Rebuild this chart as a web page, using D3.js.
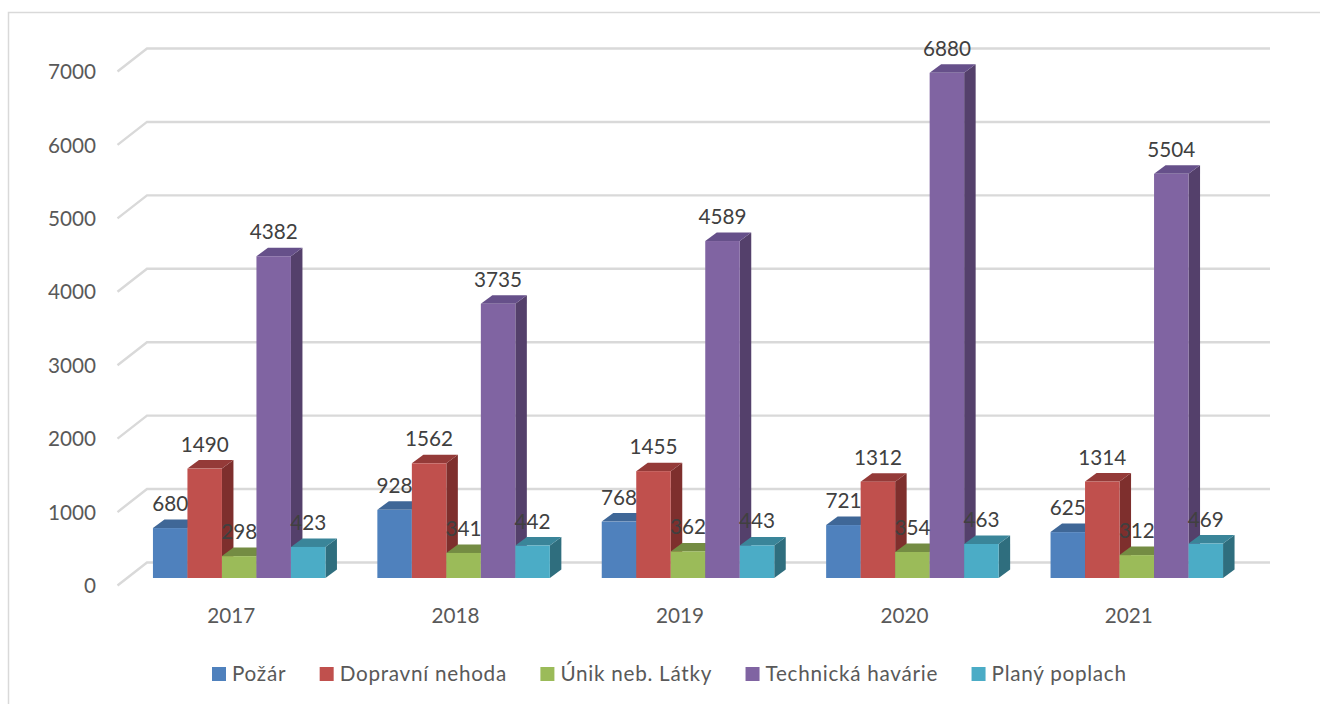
<!DOCTYPE html>
<html><head><meta charset="utf-8">
<script src="https://cdn.jsdelivr.net/npm/d3@7"></script>
<style>html,body{margin:0;padding:0;background:#fff}svg{display:block}text{font-family:Lato,sans-serif}</style>
</head><body><svg id="c" width="1320" height="704"></svg>
<script>
const years = ["2017","2018","2019","2020","2021"];
const seriesNames = ["Požár","Dopravní nehoda","Únik neb. Látky","Technická havárie","Planý poplach"];
const pozar = [680,928,768,721,625];
const nehoda = [1490,1562,1455,1312,1314];
const unik = [298,341,362,354,312];
const havarie = [4382,3735,4589,6880,5504];
const poplach = [423,442,443,463,469];
const yTicks = [0,1000,2000,3000,4000,5000,6000,7000];
const fronts = ["#4F81BD","#C0504D","#9BBB59","#8064A2","#4BACC6"];
const tops = ["#3F6797","#943A38","#748C43","#66508A","#3A8599"];
const sides = ["#345578","#7E2F2D","#5F7337","#54406B","#2F6E7E"];
const values = [pozar,nehoda,unik,havarie,poplach];

const svg = d3.select("#c");
const dx = 11.5, dy = 8.5;
const y = d3.scaleLinear().domain([0,7000]).range([578,64]);
const x0 = d3.scaleBand().domain(years).range([127,1249]);
const x1 = d3.scaleBand().domain(d3.range(5)).range([0,172.5]);
const groupPad = (x0.bandwidth()-172.5)/2;
const barX = (yi,si)=>x0(years[yi])+groupPad+x1(si);
const bw = x1.bandwidth();
const gridColor = "#D9D9D9";
const fontFam = 'Lato,sans-serif';

svg.append("path").attr("d","M8.5,704V12.5H1320").attr("fill","none").attr("stroke",gridColor).attr("stroke-width",1.5);

const grid = svg.append("g").attr("fill","none").attr("stroke",gridColor).attr("stroke-width",2.4);
yTicks.forEach(t=>{
  const by = y(t)-15.5;
  grid.append("path").attr("d",`M117.5,${by+23}L147,${by}H1270`);
});

const g = svg.append("g");
years.forEach((yr,yi)=>{
  seriesNames.forEach((s,si)=>{
    const v = values[si][yi], xL = barX(yi,si), yT = y(v), yB = y(0), xR = xL+bw;
    g.append("path").attr("fill",sides[si]).attr("d",`M${xR},${yT}l${dx},${-dy}V${yB-dy}L${xR},${yB}Z`);
    g.append("path").attr("fill",tops[si]).attr("d",`M${xL},${yT}l${dx},${-dy}H${xR+dx}L${xR},${yT}Z`);
    g.append("rect").attr("x",xL).attr("y",yT).attr("width",bw).attr("height",yB-yT).attr("fill",fronts[si]);
  });
});

const lab = svg.append("g").attr("font-size",20.7).attr("fill","#404040").attr("text-anchor","middle");
years.forEach((yr,yi)=>seriesNames.forEach((s,si)=>{
  const v = values[si][yi];
  lab.append("text").attr("x",barX(yi,si)+bw/2).attr("y",y(v)-17).text(v);
}));

const axY = d3.axisLeft(y).tickValues(yTicks).tickSize(0).tickPadding(0).tickFormat(d3.format("d"));
const gy = svg.append("g").attr("transform","translate(96,8)").call(axY);
gy.select(".domain").remove();
gy.selectAll("text").attr("font-size",20.7).attr("fill","#595959").attr("font-family",fontFam);

const axX = d3.axisBottom(x0).tickSize(0).tickPadding(0);
const gx = svg.append("g").attr("transform","translate(-8,608)").call(axX);
gx.select(".domain").remove();
gx.selectAll("text").attr("font-size",20.7).attr("fill","#595959").attr("font-family",fontFam);

let lx = 212;
const leg = svg.append("g");
seriesNames.forEach((s,i)=>{
  leg.append("rect").attr("x",lx).attr("y",667).attr("width",14).attr("height",14).attr("fill",fronts[i]);
  const t = leg.append("text").attr("x",lx+20).attr("y",681).attr("font-size",20.7).attr("letter-spacing",0.72).attr("fill","#595959").text(s);
  lx += 20 + t.node().getComputedTextLength() + 33.5;
});
</script></body></html>
